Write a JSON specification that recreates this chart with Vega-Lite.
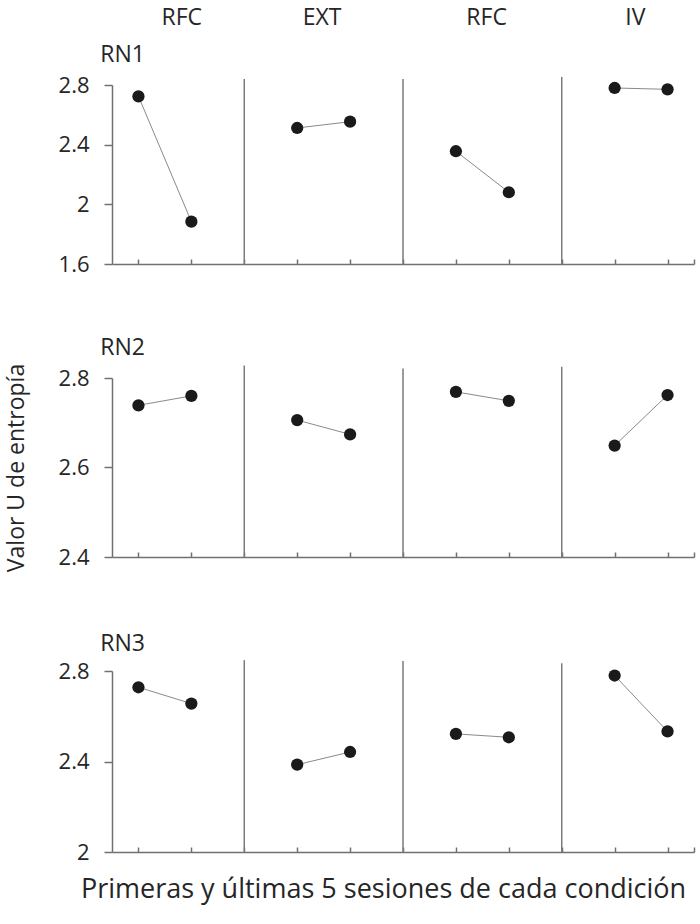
{
  "$schema": "https://vega.github.io/schema/vega-lite/v6.json",
  "background": "white",
  "padding": {"left": 5, "top": 6, "right": 5, "bottom": 5},
  "config": {
    "font": "Open Sans",
    "view": {"stroke": null},
    "axis": {"grid": false, "domainColor": "#707070", "domainWidth": 1.5, "tickColor": "#707070", "tickWidth": 1.5, "labelColor": "#262626", "titleColor": "#262626", "labelFontSize": 22, "titleFontSize": 23, "titleFontWeight": "normal", "labelFont": "Open Sans", "titleFont": "Open Sans"},
    "text": {"font": "Open Sans", "color": "#262626"}
  },
  "datasets": {
    "pts": [
      {"panel": "RN1", "grp": 1, "pos": 1, "value": 2.724},
      {"panel": "RN1", "grp": 1, "pos": 2, "value": 1.884},
      {"panel": "RN1", "grp": 2, "pos": 4, "value": 2.512},
      {"panel": "RN1", "grp": 2, "pos": 5, "value": 2.554},
      {"panel": "RN1", "grp": 3, "pos": 7, "value": 2.356},
      {"panel": "RN1", "grp": 3, "pos": 8, "value": 2.081},
      {"panel": "RN1", "grp": 4, "pos": 10, "value": 2.78},
      {"panel": "RN1", "grp": 4, "pos": 11, "value": 2.771},
      {"panel": "RN2", "grp": 1, "pos": 1, "value": 2.739},
      {"panel": "RN2", "grp": 1, "pos": 2, "value": 2.76},
      {"panel": "RN2", "grp": 2, "pos": 4, "value": 2.706},
      {"panel": "RN2", "grp": 2, "pos": 5, "value": 2.674},
      {"panel": "RN2", "grp": 3, "pos": 7, "value": 2.769},
      {"panel": "RN2", "grp": 3, "pos": 8, "value": 2.749},
      {"panel": "RN2", "grp": 4, "pos": 10, "value": 2.649},
      {"panel": "RN2", "grp": 4, "pos": 11, "value": 2.762},
      {"panel": "RN3", "grp": 1, "pos": 1, "value": 2.728},
      {"panel": "RN3", "grp": 1, "pos": 2, "value": 2.656},
      {"panel": "RN3", "grp": 2, "pos": 4, "value": 2.386},
      {"panel": "RN3", "grp": 2, "pos": 5, "value": 2.442},
      {"panel": "RN3", "grp": 3, "pos": 7, "value": 2.522},
      {"panel": "RN3", "grp": 3, "pos": 8, "value": 2.507},
      {"panel": "RN3", "grp": 4, "pos": 10, "value": 2.78},
      {"panel": "RN3", "grp": 4, "pos": 11, "value": 2.533}
    ],
    "seps": [
      {"panel": "RN1", "pos": 3, "value": 1.6, "top": 2.84},
      {"panel": "RN1", "pos": 6, "value": 1.6, "top": 2.84},
      {"panel": "RN1", "pos": 9, "value": 1.6, "top": 2.854},
      {"panel": "RN2", "pos": 3, "value": 2.4, "top": 2.828},
      {"panel": "RN2", "pos": 6, "value": 2.4, "top": 2.821},
      {"panel": "RN2", "pos": 9, "value": 2.4, "top": 2.825},
      {"panel": "RN3", "pos": 3, "value": 2.0, "top": 2.848},
      {"panel": "RN3", "pos": 6, "value": 2.0, "top": 2.844},
      {"panel": "RN3", "pos": 9, "value": 2.0, "top": 2.834}
    ],
    "rn": [
      {"panel": "RN1", "label": "RN1", "pos": 0.28, "value": 3.0},
      {"panel": "RN2", "label": "RN2", "pos": 0.28, "value": 2.867},
      {"panel": "RN3", "label": "RN3", "pos": 0.28, "value": 2.918}
    ],
    "conds": [
      {"label": "RFC", "pos": 1.82, "value": 3.25},
      {"label": "EXT", "pos": 4.47, "value": 3.25},
      {"label": "RFC", "pos": 7.58, "value": 3.25},
      {"label": "IV", "pos": 10.39, "value": 3.25}
    ]
  },
  "vconcat": [
    {
      "width": 582,
      "height": 179,
      "encoding": {
        "x": {"field": "pos", "type": "quantitative", "scale": {"domain": [0.5, 11.5], "nice": false, "zero": false}, "axis": {"values": [1, 2, 3, 4, 5, 6, 7, 8, 9, 10, 11, 11.5], "labels": false, "tickSize": -5, "title": null}},
        "y": {"field": "value", "type": "quantitative", "scale": {"domain": [1.6, 2.8], "nice": false, "zero": false}, "axis": {"values": [1.6, 2, 2.4, 2.8], "format": "~g", "tickSize": 8, "labelPadding": 15, "title": null}}
      },
      "layer": [
        {"data": {"name": "seps"}, "transform": [{"filter": "datum.panel == 'RN1'"}], "mark": {"type": "rule", "color": "#7a7a7a", "strokeWidth": 1.5, "clip": false}, "encoding": {"y2": {"field": "top"}}},
        {"data": {"name": "pts"}, "transform": [{"filter": "datum.panel == 'RN1'"}], "mark": {"type": "line", "color": "#8a8a8a", "strokeWidth": 1}, "encoding": {"detail": {"field": "grp"}, "order": {"field": "pos"}}},
        {"data": {"name": "pts"}, "transform": [{"filter": "datum.panel == 'RN1'"}], "mark": {"type": "point", "filled": true, "size": 150, "color": "#1a1a1a", "opacity": 1}, "encoding": {}},
        {"data": {"name": "rn"}, "transform": [{"filter": "datum.panel == 'RN1'"}], "mark": {"type": "text", "align": "left", "baseline": "middle", "fontSize": 23, "clip": false}, "encoding": {"text": {"field": "label"}}},
        {"data": {"name": "conds"}, "mark": {"type": "text", "align": "center", "baseline": "middle", "fontSize": 23, "clip": false}, "encoding": {"text": {"field": "label"}}}
      ]
    },
    {
      "width": 582,
      "height": 179,
      "encoding": {
        "x": {"field": "pos", "type": "quantitative", "scale": {"domain": [0.5, 11.5], "nice": false, "zero": false}, "axis": {"values": [1, 2, 3, 4, 5, 6, 7, 8, 9, 10, 11, 11.5], "labels": false, "tickSize": -5, "title": null}},
        "y": {"field": "value", "type": "quantitative", "scale": {"domain": [2.4, 2.8], "nice": false, "zero": false}, "axis": {"values": [2.4, 2.6, 2.8], "format": "~g", "tickSize": 8, "labelPadding": 15, "title": "Valor U de entropía", "titlePadding": 30}}
      },
      "layer": [
        {"data": {"name": "seps"}, "transform": [{"filter": "datum.panel == 'RN2'"}], "mark": {"type": "rule", "color": "#7a7a7a", "strokeWidth": 1.5, "clip": false}, "encoding": {"y2": {"field": "top"}}},
        {"data": {"name": "pts"}, "transform": [{"filter": "datum.panel == 'RN2'"}], "mark": {"type": "line", "color": "#8a8a8a", "strokeWidth": 1}, "encoding": {"detail": {"field": "grp"}, "order": {"field": "pos"}}},
        {"data": {"name": "pts"}, "transform": [{"filter": "datum.panel == 'RN2'"}], "mark": {"type": "point", "filled": true, "size": 150, "color": "#1a1a1a", "opacity": 1}, "encoding": {}},
        {"data": {"name": "rn"}, "transform": [{"filter": "datum.panel == 'RN2'"}], "mark": {"type": "text", "align": "left", "baseline": "middle", "fontSize": 23, "clip": false}, "encoding": {"text": {"field": "label"}}}
      ]
    },
    {
      "width": 582,
      "height": 181,
      "encoding": {
        "x": {"field": "pos", "type": "quantitative", "scale": {"domain": [0.5, 11.5], "nice": false, "zero": false}, "axis": {"values": [1, 2, 3, 4, 5, 6, 7, 8, 9, 10, 11, 11.5], "labels": false, "tickSize": -5, "title": "Primeras y últimas 5 sesiones de cada condición", "titleFontSize": 27, "titlePadding": 24, "titleX": 271, "titleAlign": "center"}},
        "y": {"field": "value", "type": "quantitative", "scale": {"domain": [2.0, 2.8], "nice": false, "zero": false}, "axis": {"values": [2, 2.4, 2.8], "format": "~g", "tickSize": 8, "labelPadding": 15, "title": null}}
      },
      "layer": [
        {"data": {"name": "seps"}, "transform": [{"filter": "datum.panel == 'RN3'"}], "mark": {"type": "rule", "color": "#7a7a7a", "strokeWidth": 1.5, "clip": false}, "encoding": {"y2": {"field": "top"}}},
        {"data": {"name": "pts"}, "transform": [{"filter": "datum.panel == 'RN3'"}], "mark": {"type": "line", "color": "#8a8a8a", "strokeWidth": 1}, "encoding": {"detail": {"field": "grp"}, "order": {"field": "pos"}}},
        {"data": {"name": "pts"}, "transform": [{"filter": "datum.panel == 'RN3'"}], "mark": {"type": "point", "filled": true, "size": 150, "color": "#1a1a1a", "opacity": 1}, "encoding": {}},
        {"data": {"name": "rn"}, "transform": [{"filter": "datum.panel == 'RN3'"}], "mark": {"type": "text", "align": "left", "baseline": "middle", "fontSize": 23, "clip": false}, "encoding": {"text": {"field": "label"}}}
      ]
    }
  ],
  "bounds": "flush",
  "spacing": 114
}
